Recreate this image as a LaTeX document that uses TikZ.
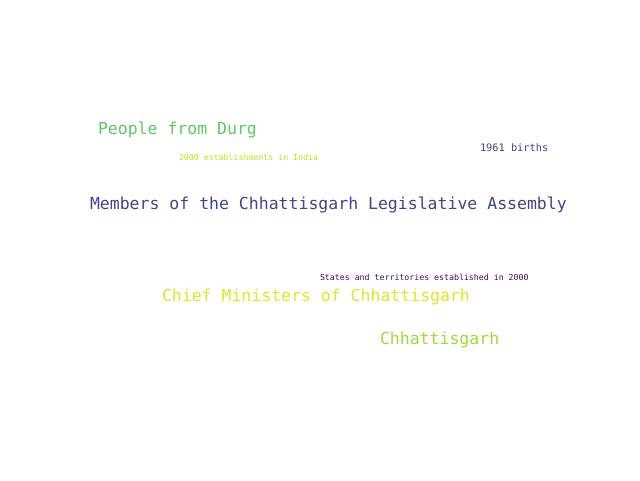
\documentclass[tikz,border=0pt]{standalone}
\usepackage{fontspec}
\setmainfont{DejaVu Sans Mono}
\definecolor{vGreen}{HTML}{5EC962}
\definecolor{vBlue}{HTML}{414487}
\definecolor{vYellow}{HTML}{E2E42A}
\definecolor{vLime}{HTML}{A0DA39}
\definecolor{vLightLime}{HTML}{C2DF23}
\definecolor{vPurple}{HTML}{46085C}
\begin{document}
\begin{tikzpicture}[x=1pt,y=-1pt,
  word/.style={inner sep=0pt, outer sep=0pt, anchor=base west},
  big/.style={word, font=\fontsize{16.5}{19}\selectfont},
  mid/.style={word, font=\fontsize{10.3}{12}\selectfont},
  tiny/.style={word, font=\fontsize{8.25}{10}\selectfont}]
\fill[white] (0,0) rectangle (640,480);
\useasboundingbox (0,0) rectangle (640,480);
\node[big, text=vGreen] (durg) at (98,134.3) {People from Durg};
\node[tiny, text=vLightLime] (estab) at (179,160.5) {2000 establishments in India};
\node[mid, text=vBlue] (births) at (480,151.5) {1961 births};
\node[big, text=vBlue] (members) at (90,209.5) {Members of the Chhattisgarh Legislative Assembly};
\node[tiny, text=vPurple] (states) at (320,280.5) {States and territories established in 2000};
\node[big, text=vYellow] (chief) at (162,301) {Chief Ministers of Chhattisgarh};
\node[big, text=vLime] (chh) at (380,344.3) {Chhattisgarh};
\end{tikzpicture}
\end{document}
